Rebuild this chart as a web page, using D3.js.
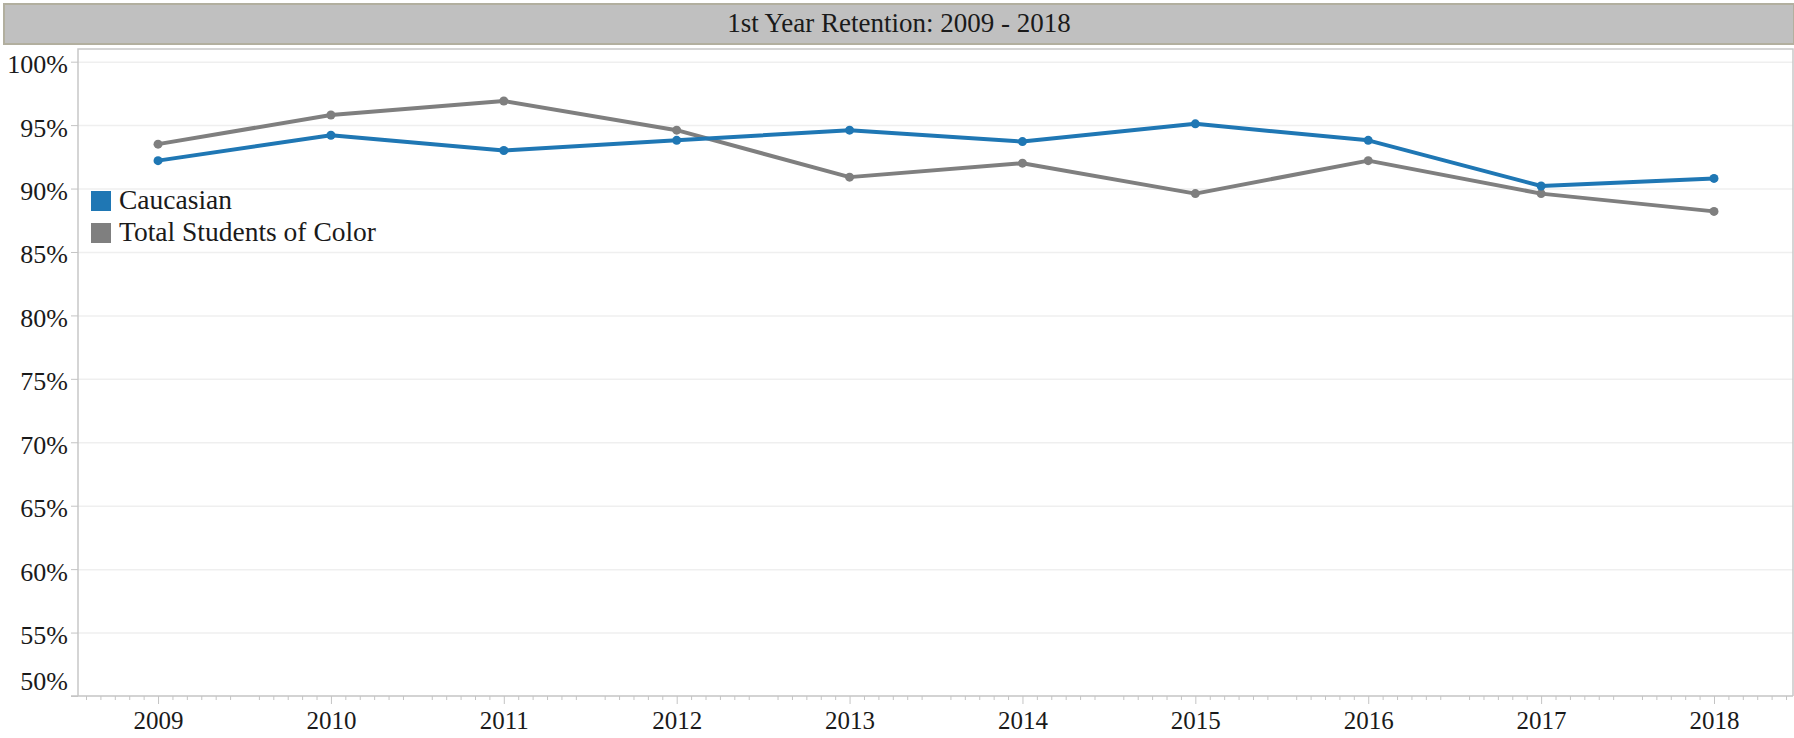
<!DOCTYPE html>
<html>
<head>
<meta charset="utf-8">
<script src="https://cdn.jsdelivr.net/npm/d3@7"></script>
<style>
  body { margin: 0; background: #fff; }
  text { font-family: "Liberation Serif", "Times New Roman", serif; fill: #1a1a1a; }
  .axis path { display: none; }
  .axis line { stroke: #c4c4c4; }
</style>
</head>
<body>
<svg id="chart" width="1794" height="738"></svg>
<script>
// values
var years = [2009, 2010, 2011, 2012, 2013, 2014, 2015, 2016, 2017, 2018];
var caucasian = [92.2, 94.2, 93.0, 93.8, 94.6, 93.7, 95.1, 93.8, 90.2, 90.8];
var studentsOfColor = [93.5, 95.8, 96.9, 94.6, 90.9, 92.0, 89.6, 92.2, 89.6, 88.2];
var yTicks = [50, 55, 60, 65, 70, 75, 80, 85, 90, 95, 100];
var seriesNames = ["Caucasian", "Total Students of Color"];
var seriesColors = ["#1f77b4", "#7f7f7f"];
var titleText = "1st Year Retention: 2009 - 2018";

var svg = d3.select("#chart");
var W = 1794;

// plot box (note: "top" is taken by window.top, so prefix these)
var plotLeft = 78, plotRight = 1793, plotTop = 49, plotBottom = 696;

var x = d3.scaleLinear().domain([2008.537, 2018.457]).range([plotLeft, plotRight]);
var y = d3.scaleLinear().domain([50, 101]).range([plotBottom, plotTop]);

// title bar
svg.append("rect")
  .attr("x", 4).attr("y", 4).attr("width", W - 4).attr("height", 40)
  .attr("fill", "#c0c0c0").attr("stroke", "#b2af9f").attr("stroke-width", 2);
svg.append("text")
  .attr("x", (4 + W) / 2).attr("y", 32)
  .attr("text-anchor", "middle")
  .style("font-size", "27px")
  .text(titleText);

// gridlines
svg.append("g")
  .attr("transform", "translate(" + plotLeft + ",0)")
  .call(d3.axisLeft(y).tickValues(yTicks.slice(1)).tickSize(-(plotRight - plotLeft)).tickFormat(""))
  .call(function (g) {
    g.select(".domain").remove();
    g.selectAll("line").attr("stroke", "#efefef").attr("stroke-width", 1.5);
  });

// plot frame
svg.append("path")
  .attr("d", "M" + plotLeft + "," + plotBottom + "V" + plotTop + "H" + plotRight + "V" + plotBottom)
  .attr("fill", "none").attr("stroke", "#c8c8c8").attr("stroke-width", 1.5);
svg.append("line")
  .attr("x1", plotLeft - 7).attr("x2", plotRight).attr("y1", plotBottom).attr("y2", plotBottom)
  .attr("stroke", "#c4c4c4").attr("stroke-width", 1.5);

// y axis
var yAxis = svg.append("g").attr("class", "axis")
  .attr("transform", "translate(" + plotLeft + ",0)")
  .call(d3.axisLeft(y).tickValues(yTicks).tickSize(7).tickPadding(3).tickFormat(function (d) { return d + "%"; }));
yAxis.selectAll("text").style("font-size", "26px").attr("dy", "0.42em");
yAxis.selectAll(".tick").filter(function (d) { return d === 50; })
  .select("text").attr("dy", "-0.25em");

// x axis: monthly minor ticks, yearly major ticks
var minor = [];
years.forEach(function (yr) {
  for (var m = -5; m <= 5; m++) { if (m !== 0) minor.push(yr + m / 12); }
});
svg.append("g").attr("class", "axis")
  .attr("transform", "translate(0," + plotBottom + ")")
  .call(d3.axisBottom(x).tickValues(minor).tickSize(4).tickFormat(""));
var xAxis = svg.append("g").attr("class", "axis")
  .attr("transform", "translate(0," + plotBottom + ")")
  .call(d3.axisBottom(x).tickValues(years).tickSize(8).tickPadding(10).tickFormat(d3.format("d")));
xAxis.selectAll("text").style("font-size", "25px").attr("dy", "0.6em");

// lines and points
var allSeries = [caucasian, studentsOfColor];
var line = d3.line()
  .x(function (d, i) { return x(years[i]); })
  .y(function (d) { return y(d); });

// grey first so blue sits on top where they cross
[1, 0].forEach(function (s) {
  svg.append("path")
    .datum(allSeries[s])
    .attr("fill", "none")
    .attr("stroke", seriesColors[s])
    .attr("stroke-width", 4)
    .attr("stroke-linejoin", "round")
    .attr("d", line);
  svg.append("g").selectAll("circle")
    .data(allSeries[s])
    .join("circle")
    .attr("cx", function (d, i) { return x(years[i]); })
    .attr("cy", function (d) { return y(d); })
    .attr("r", 4.5)
    .attr("fill", seriesColors[s]);
});

// legend
var legend = svg.append("g").attr("transform", "translate(91,191)");
seriesNames.forEach(function (name, i) {
  var row = legend.append("g").attr("transform", "translate(0," + (i * 32) + ")");
  row.append("rect").attr("width", 20).attr("height", 20).attr("fill", seriesColors[i]);
  row.append("text").attr("x", 28).attr("y", 18).style("font-size", "27.5px").text(name);
});
</script>
</body>
</html>
